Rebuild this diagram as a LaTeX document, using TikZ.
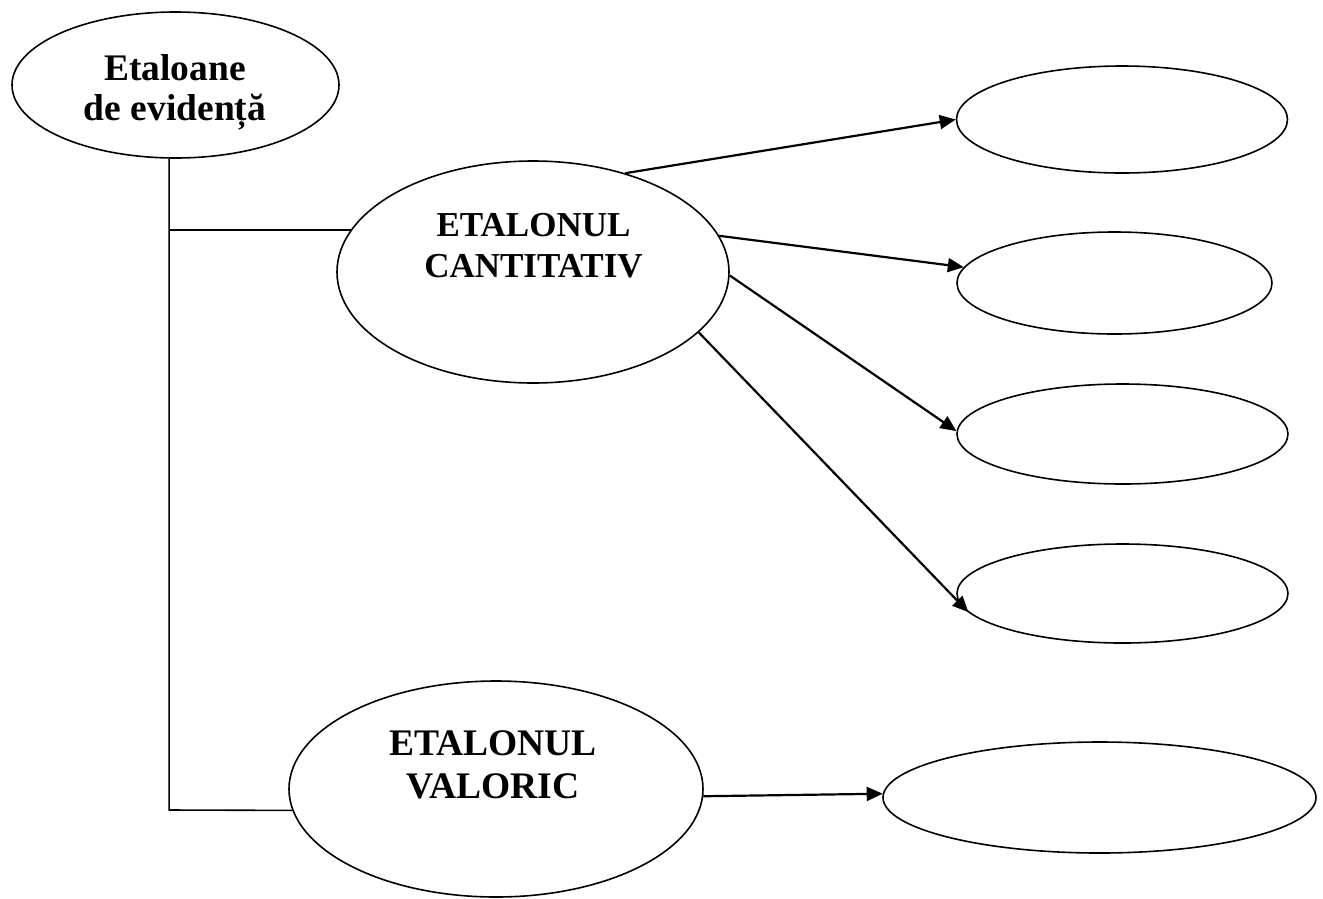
\documentclass[tikz,border=0pt]{standalone}
\usepackage{fontspec}
\setmainfont{Liberation Serif}
\usetikzlibrary{shapes.geometric,arrows.meta}

\begin{document}
\begin{tikzpicture}[x=1pt,y=-1pt,
  oval/.style={draw, ellipse, line width=1.6pt, inner sep=0pt},
  caption/.style={align=center, font=\bfseries, inner sep=0pt},
  link/.style={line width=1.6pt},
  pointer/.style={line width=2.2pt, -{Triangle[length=16pt,width=14pt]}}]
  \useasboundingbox (0,0) rectangle (1323,898);

  % main categories
  \node[oval, minimum width=327pt, minimum height=146pt] (eta) at (175.5,85) {};
  \node[oval, minimum width=392pt, minimum height=222pt] (cant) at (533,272) {};
  \node[oval, minimum width=414pt, minimum height=216pt] (val) at (496,789) {};

  % empty sub-items
  \node[oval, minimum width=331pt, minimum height=107pt] (c1) at (1122,119.5) {};
  \node[oval, minimum width=315pt, minimum height=102pt] (c2) at (1114.5,283) {};
  \node[oval, minimum width=331pt, minimum height=100pt] (c3) at (1122.5,434) {};
  \node[oval, minimum width=331pt, minimum height=99pt] (c4) at (1122.5,593.5) {};
  \node[oval, minimum width=433pt, minimum height=111pt] (v1) at (1099.5,797.5) {};

  % labels
  \node[caption, anchor=base, font=\fontsize{37.5}{40}\selectfont\bfseries] (etaText) at (175,120) {Etaloane\\de evidență};
  \node[caption, anchor=base, font=\fontsize{35}{41}\selectfont\bfseries] (cantText) at (533.5,277) {ETALONUL\\CANTITATIV};
  \node[caption, anchor=base, font=\fontsize{37.5}{43}\selectfont\bfseries] (valText) at (493,798) {ETALONUL\\VALORIC};

  % tree lines on the left
  \coordinate (baseY) at (0,810);
  \coordinate (corner) at (eta.265 |- baseY);
  \draw[link] (eta.265) -- (corner) -- (val.186.5);
  \draw[link] (cant.167.7) -- (cant.167.7 -| corner);

  % arrows to the sub-items
  \draw[pointer] (cant.47) -- (c1.west);
  \draw[pointer] (cant.11.8) -- (c2.174);
  \draw[pointer] (cant.-1.5) -- (c3.179);
  \draw[pointer, shorten >=-14pt] (cant.-20.4) -- (c4.183.7);
  \draw[pointer] (val.-2) -- (v1.179);
\end{tikzpicture}
\end{document}
